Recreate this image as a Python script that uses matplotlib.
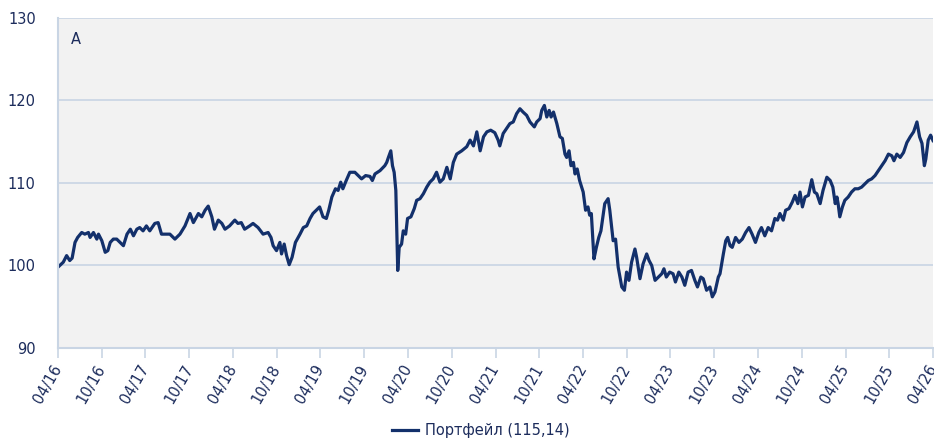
import matplotlib
matplotlib.use("Agg")
import matplotlib.pyplot as plt
import matplotlib.dates as mdates
import pandas as pd

# значения портфейла, прочетени от графиката
dates = [
    "2016-04-01", "2016-04-23", "2016-05-07", "2016-05-20", "2016-05-30", "2016-06-11", "2016-06-22",
    "2016-07-09", "2016-07-22", "2016-08-06", "2016-08-13", "2016-08-27", "2016-09-10", "2016-09-17",
    "2016-10-01", "2016-10-15", "2016-10-26", "2016-11-05", "2016-11-18", "2016-12-02", "2016-12-16",
    "2016-12-30", "2017-01-14", "2017-01-28", "2017-02-10", "2017-02-24", "2017-03-08", "2017-03-22",
    "2017-04-05", "2017-04-19", "2017-05-10", "2017-05-24", "2017-06-07", "2017-06-21", "2017-07-12",
    "2017-08-02", "2017-08-23", "2017-09-13", "2017-10-04", "2017-10-18", "2017-11-08", "2017-11-22",
    "2017-12-06", "2017-12-19", "2018-01-03", "2018-01-14", "2018-01-30", "2018-02-14", "2018-02-27",
    "2018-03-18", "2018-04-09", "2018-04-22", "2018-05-06", "2018-05-20", "2018-06-10", "2018-06-24",
    "2018-07-15", "2018-08-05", "2018-08-26", "2018-09-07", "2018-09-16", "2018-09-30", "2018-10-14",
    "2018-10-21", "2018-11-01", "2018-11-11", "2018-11-22", "2018-12-04", "2018-12-18", "2019-01-06",
    "2019-01-20", "2019-02-03", "2019-02-17", "2019-03-01", "2019-03-15", "2019-03-29", "2019-04-12",
    "2019-04-26", "2019-05-06", "2019-05-19", "2019-06-03", "2019-06-14", "2019-06-25", "2019-07-04",
    "2019-07-18", "2019-08-02", "2019-08-23", "2019-09-06", "2019-09-20", "2019-10-07", "2019-10-25",
    "2019-11-04", "2019-11-15", "2019-12-06", "2019-12-19", "2019-12-26", "2020-01-03", "2020-01-10",
    "2020-01-20", "2020-01-27", "2020-02-03", "2020-02-10", "2020-02-18", "2020-02-24", "2020-03-05",
    "2020-03-12", "2020-03-22", "2020-03-30", "2020-04-13", "2020-04-27", "2020-05-07", "2020-05-21",
    "2020-06-04", "2020-06-18", "2020-07-01", "2020-07-15", "2020-07-29", "2020-08-12", "2020-08-26",
    "2020-09-10", "2020-09-24", "2020-10-07", "2020-10-21", "2020-11-11", "2020-12-02", "2020-12-16",
    "2020-12-30", "2021-01-13", "2021-01-27", "2021-02-10", "2021-02-24", "2021-03-12", "2021-03-29",
    "2021-04-12", "2021-04-19", "2021-05-03", "2021-05-17", "2021-05-31", "2021-06-14", "2021-06-28",
    "2021-07-12", "2021-07-25", "2021-08-09", "2021-08-23", "2021-09-10", "2021-09-20", "2021-10-04",
    "2021-10-11", "2021-10-22", "2021-11-01", "2021-11-11", "2021-11-19", "2021-11-29", "2021-12-13",
    "2021-12-26", "2022-01-05", "2022-01-16", "2022-01-23", "2022-02-02", "2022-02-10", "2022-02-20",
    "2022-02-27", "2022-03-08", "2022-03-18", "2022-04-02", "2022-04-12", "2022-04-22", "2022-04-29",
    "2022-05-06", "2022-05-17", "2022-05-27", "2022-06-06", "2022-06-15", "2022-07-01", "2022-07-15",
    "2022-07-22", "2022-08-05", "2022-08-15", "2022-08-26", "2022-09-10", "2022-09-21", "2022-09-30",
    "2022-10-10", "2022-10-21", "2022-11-04", "2022-11-11", "2022-11-25", "2022-12-08", "2022-12-23",
    "2023-01-02", "2023-01-13", "2023-01-27", "2023-02-10", "2023-02-24", "2023-03-05", "2023-03-15",
    "2023-03-29", "2023-04-12", "2023-04-22", "2023-05-06", "2023-05-19", "2023-05-31", "2023-06-14",
    "2023-06-28", "2023-07-12", "2023-07-23", "2023-08-06", "2023-08-16", "2023-08-30", "2023-09-13",
    "2023-09-23", "2023-10-04", "2023-10-18", "2023-10-25", "2023-11-08", "2023-11-18", "2023-11-26",
    "2023-12-06", "2023-12-15", "2023-12-29", "2024-01-12", "2024-01-26", "2024-02-09", "2024-02-23",
    "2024-03-07", "2024-03-21", "2024-04-04", "2024-04-15", "2024-04-29", "2024-05-13", "2024-05-27",
    "2024-06-10", "2024-06-21", "2024-07-01", "2024-07-15", "2024-07-25", "2024-08-08", "2024-08-22",
    "2024-09-02", "2024-09-14", "2024-09-23", "2024-10-03", "2024-10-14", "2024-10-28", "2024-11-11",
    "2024-11-22", "2024-12-02", "2024-12-16", "2024-12-28", "2025-01-13", "2025-01-27", "2025-02-07",
    "2025-02-17", "2025-02-24", "2025-03-01", "2025-03-08", "2025-03-19", "2025-03-29", "2025-04-12",
    "2025-04-26", "2025-05-10", "2025-05-24", "2025-06-07", "2025-06-21", "2025-07-05", "2025-07-19",
    "2025-08-02", "2025-08-16", "2025-08-30", "2025-09-13", "2025-09-27", "2025-10-11", "2025-10-20",
    "2025-11-01", "2025-11-15", "2025-11-29", "2025-12-13", "2025-12-27", "2026-01-10", "2026-01-24",
    "2026-02-04", "2026-02-14", "2026-02-24", "2026-03-02", "2026-03-12", "2026-03-22", "2026-04-01",
]
values = [
    99.8, 100.4, 101.2, 100.6, 100.9, 102.8, 103.4,
    104.0, 103.8, 104.0, 103.4, 104.0, 103.2, 103.8,
    103.0, 101.6, 101.8, 102.8, 103.2, 103.2, 102.8,
    102.4, 103.8, 104.4, 103.6, 104.4, 104.6, 104.2,
    104.8, 104.2, 105.1, 105.2, 103.8, 103.8, 103.8,
    103.2, 103.8, 104.8, 106.3, 105.2, 106.3, 105.9,
    106.7, 107.2, 105.9, 104.4, 105.5, 105.1, 104.4,
    104.8, 105.5, 105.1, 105.2, 104.4, 104.8, 105.1,
    104.6, 103.8, 104.0, 103.4, 102.4, 101.8, 102.8,
    101.4, 102.6, 101.2, 100.1, 101.0, 102.8, 103.8,
    104.6, 104.8, 105.7, 106.3, 106.7, 107.1, 105.9,
    105.7, 106.7, 108.3, 109.3, 109.1, 110.1, 109.3,
    110.3, 111.3, 111.3, 110.9, 110.5, 110.9, 110.8,
    110.3, 111.1, 111.5, 111.9, 112.1, 112.5, 113.1,
    113.9, 112.1, 111.3, 109.1, 99.4, 102.2, 102.6,
    104.2, 103.8, 105.7, 105.9, 106.9, 107.9, 108.1,
    108.7, 109.5, 110.1, 110.5, 111.3, 110.1, 110.5,
    111.9, 110.5, 112.5, 113.5, 113.9, 114.4, 115.2,
    114.5, 116.2, 113.9, 115.6, 116.2, 116.4, 116.1,
    115.2, 114.5, 116.0, 116.6, 117.2, 117.4, 118.4,
    119.0, 118.6, 118.2, 117.4, 116.8, 117.4, 117.8,
    118.8, 119.4, 118.0, 118.8, 118.0, 118.6, 117.2,
    115.6, 115.4, 113.5, 113.1, 113.9, 112.1, 112.5,
    111.1, 111.7, 110.3, 108.9, 106.7, 107.1, 106.1,
    106.3, 100.8, 102.2, 103.4, 104.2, 107.5, 108.1,
    106.7, 103.0, 103.2, 99.8, 97.4, 97.0, 99.2,
    98.2, 100.4, 102.0, 101.0, 98.4, 100.2, 101.4,
    100.6, 100.0, 98.2, 98.6, 99.0, 99.6, 98.6,
    99.2, 99.0, 98.0, 99.2, 98.6, 97.6, 99.2,
    99.4, 98.2, 97.4, 98.6, 98.4, 97.0, 97.4,
    96.2, 96.8, 98.6, 99.0, 101.4, 103.0, 103.4,
    102.4, 102.2, 103.4, 102.8, 103.2, 104.0, 104.6,
    103.8, 102.8, 104.0, 104.6, 103.6, 104.6, 104.2,
    105.7, 105.5, 106.3, 105.5, 106.7, 106.9, 107.7,
    108.5, 107.5, 108.9, 107.1, 108.3, 108.5, 110.4,
    108.9, 108.7, 107.5, 109.1, 110.7, 110.3, 109.5,
    107.5, 108.3, 107.5, 105.9, 107.1, 107.9, 108.3,
    108.9, 109.3, 109.3, 109.5, 109.9, 110.3, 110.5,
    110.9, 111.5, 112.1, 112.7, 113.5, 113.3, 112.7,
    113.5, 113.1, 113.7, 114.9, 115.6, 116.2, 117.4,
    115.6, 114.8, 112.1, 112.9, 115.2, 115.8, 115.14,
]
y_ticks = [90, 100, 110, 120, 130]
series_label = "Портфейл (115,14)"
panel_label = "A"

navy = "#13306b"
text_col = "#1c2c5c"
grid_col = "#c9d5e4"

plt.rcParams["font.family"] = ["DejaVu Sans"]

x = pd.to_datetime(dates)

fig = plt.figure(figsize=(9.34, 4.41), dpi=100)
ax = fig.add_axes([58 / 934, 1 - 348 / 441, 875 / 934, 330 / 441])
ax.set_facecolor("#f2f2f2")

line, = ax.plot(x, values, color=navy, linewidth=2.3, solid_joinstyle="round")

ax.set_ylim(90, 130)
ax.set_yticks(y_ticks)
ax.set_xlim(pd.Timestamp("2016-04-01"), pd.Timestamp("2026-04-01"))
ax.xaxis.set_major_locator(mdates.MonthLocator(bymonth=[4, 10], bymonthday=1))
ax.xaxis.set_major_formatter(mdates.DateFormatter("%m/%y"))

ax.grid(axis="y", color=grid_col, linewidth=1.2)
ax.set_axisbelow(True)
for side in ["top", "right"]:
    ax.spines[side].set_visible(False)
for side in ["left", "bottom"]:
    ax.spines[side].set_color(grid_col)
    ax.spines[side].set_linewidth(1.5)

ax.tick_params(axis="y", length=0, pad=16, labelsize=10.5, labelcolor=text_col)
ax.tick_params(axis="x", length=7, width=1.2, color=grid_col, pad=6,
               labelsize=10.5, labelcolor=text_col)

ax.text(0.015, 0.935, panel_label, transform=ax.transAxes, fontsize=10.5,
        color=text_col, ha="left", va="center")

fig.legend([line], [series_label], loc="center", bbox_to_anchor=(0.515, 1 - 431 / 441),
           frameon=False, fontsize=10.5, labelcolor=text_col, handlelength=1.8,
           handletextpad=0.5)

fig.canvas.draw()
for lbl in ax.get_xticklabels():
    lbl.set_rotation(60)
    lbl.set_ha("right")
    lbl.set_va("center")
    lbl.set_rotation_mode("anchor")

fig.savefig("out.png", dpi=100)
